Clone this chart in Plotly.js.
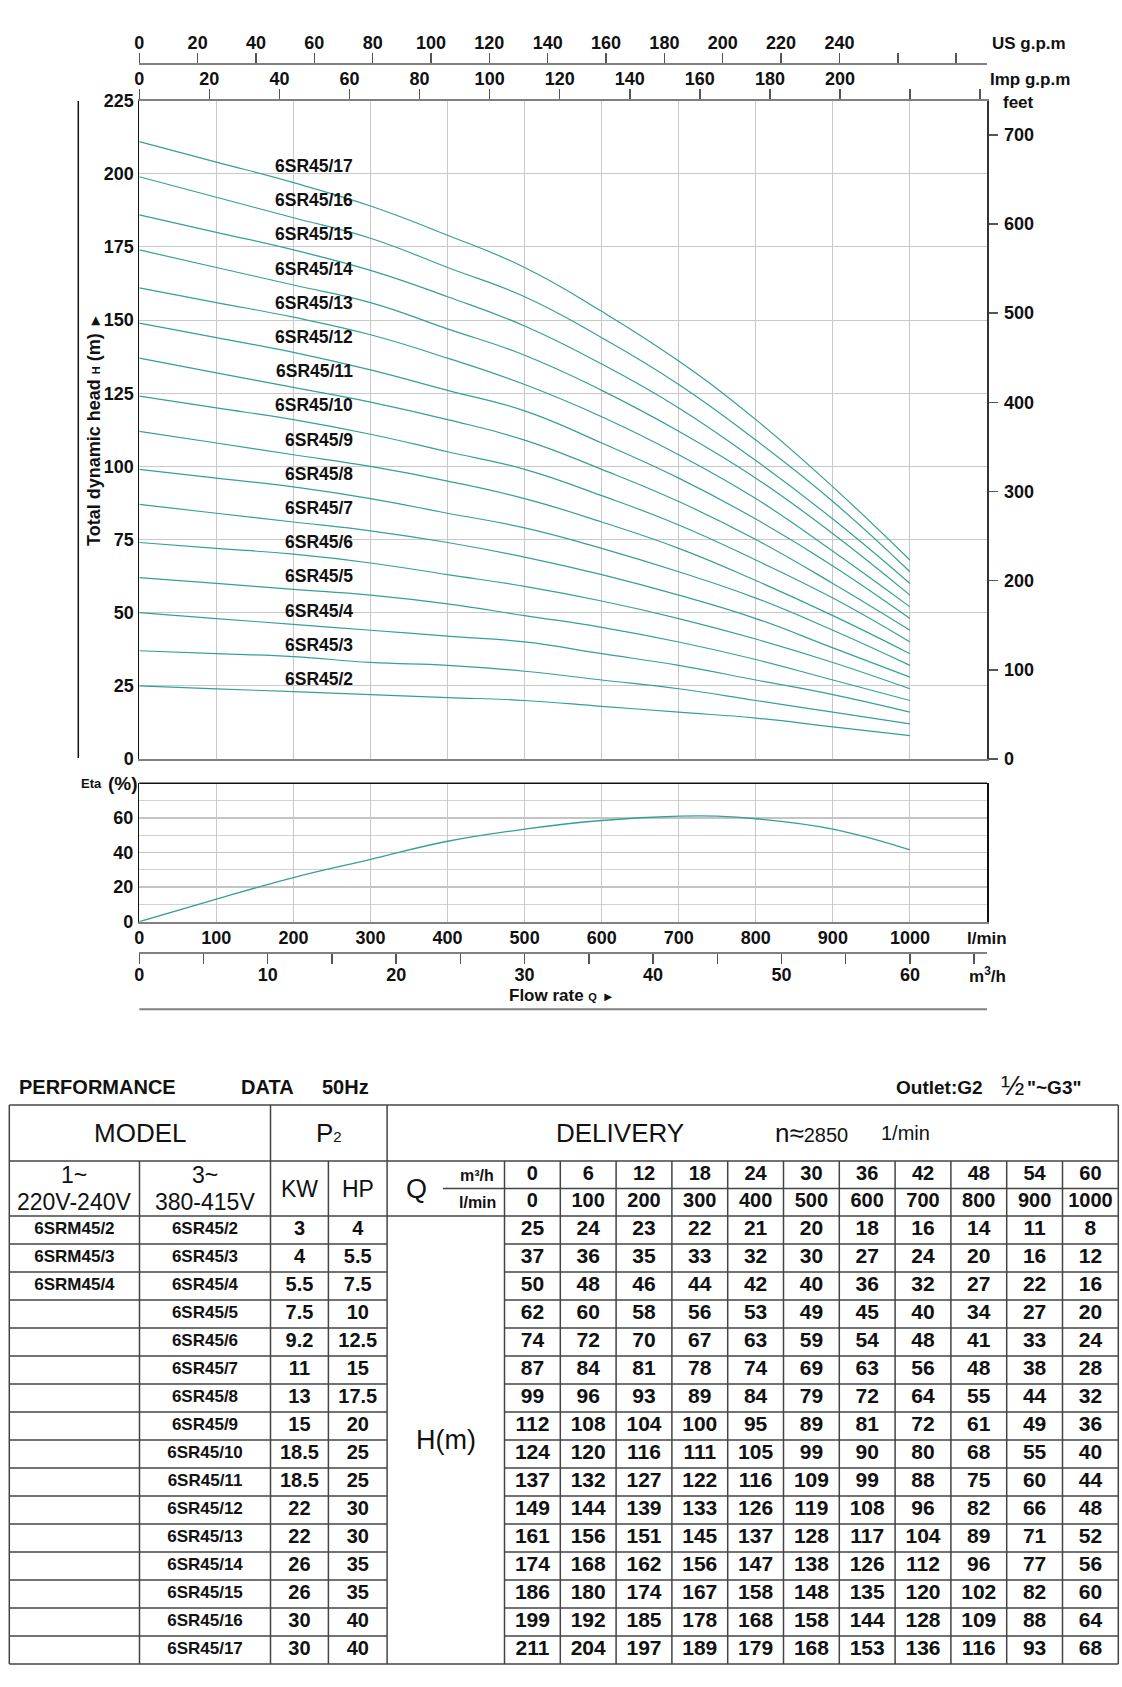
<!DOCTYPE html>
<html><head><meta charset="utf-8">
<script src="https://cdn.plot.ly/plotly-3.0.1.min.js"></script>
<style>html,body{margin:0;padding:0;background:#fff}#chart{width:1122px;height:1687px}</style>
</head><body><div id="chart"></div>
<script>
// ---------------- DATA ----------------
const flowLmin = [0,100,200,300,400,500,600,700,800,900,1000];
const flowM3h  = [0,6,12,18,24,30,36,42,48,54,60];
const models3 = ['6SR45/2','6SR45/3','6SR45/4','6SR45/5','6SR45/6','6SR45/7','6SR45/8','6SR45/9','6SR45/10','6SR45/11','6SR45/12','6SR45/13','6SR45/14','6SR45/15','6SR45/16','6SR45/17'];
const models1 = ['6SRM45/2','6SRM45/3','6SRM45/4','','','','','','','','','','','','',''];
const powerKW = ['3','4','5.5','7.5','9.2','11','13','15','18.5','18.5','22','22','26','26','30','30'];
const powerHP = ['4','5.5','7.5','10','12.5','15','17.5','20','25','25','30','30','35','35','40','40'];
const head2  = [25,24,23,22,21,20,18,16,14,11,8];
const head3  = [37,36,35,33,32,30,27,24,20,16,12];
const head4  = [50,48,46,44,42,40,36,32,27,22,16];
const head5  = [62,60,58,56,53,49,45,40,34,27,20];
const head6  = [74,72,70,67,63,59,54,48,41,33,24];
const head7  = [87,84,81,78,74,69,63,56,48,38,28];
const head8  = [99,96,93,89,84,79,72,64,55,44,32];
const head9  = [112,108,104,100,95,89,81,72,61,49,36];
const head10 = [124,120,116,111,105,99,90,80,68,55,40];
const head11 = [137,132,127,122,116,109,99,88,75,60,44];
const head12 = [149,144,139,133,126,119,108,96,82,66,48];
const head13 = [161,156,151,145,137,128,117,104,89,71,52];
const head14 = [174,168,162,156,147,138,126,112,96,77,56];
const head15 = [186,180,174,167,158,148,135,120,102,82,60];
const head16 = [199,192,185,178,168,158,144,128,109,88,64];
const head17 = [211,204,197,189,179,168,153,136,116,93,68];
const heads = [head2,head3,head4,head5,head6,head7,head8,head9,head10,head11,head12,head13,head14,head15,head16,head17];
const etaFlow = [0,100,200,300,400,500,600,700,750,800,900,1000];
const etaPct  = [0,13,25.5,36,46.5,53.5,58.5,61,61,59.5,53.5,41.5];
const usGpmLabeled  = [0,20,40,60,80,100,120,140,160,180,200,220,240];
const usGpmExtra    = [260,280];
const impGpmLabeled = [0,20,40,60,80,100,120,140,160,180,200];
const impGpmExtra   = [220,240];
const m3hLabeled = [0,10,20,30,40,50,60];

// ---------------- LAYOUT CONSTANTS ----------------
const W = 1122, H = 1687;
const py = y => 1 - y / H;
const L = 139.3, R = 987, MT = 100.7, MB = 759, ET = 783.3, EB = 921.7;
const XMAX = 1100;
const TEAL = '#35a095', GRID = '#c8c8c8', AXG = '#808080';
const FF = 'Liberation Sans, Arial, Helvetica, sans-serif';
const tf = (s, w) => ({family: FF, size: s, color: '#111', weight: w || 'bold'});

const traces = [];
heads.forEach((h, i) => traces.push({
  x: flowLmin, y: h, type: 'scatter', mode: 'lines', name: models3[i],
  line: {color: TEAL, width: 1.2, shape: 'spline', smoothing: 1.3},
  xaxis: 'x', yaxis: 'y', hoverinfo: 'skip', showlegend: false
}));
traces.push({x: etaFlow, y: etaPct, type: 'scatter', mode: 'lines',
  line: {color: TEAL, width: 1.3, shape: 'spline', smoothing: 1.2},
  xaxis: 'x4', yaxis: 'y3', hoverinfo: 'skip', showlegend: false});
// helper traces so the secondary scales exist
[['x2','y'],['x3','y'],['x','y2'],['x5','y3']].forEach(p => traces.push({
  x: [0], y: [0], type: 'scatter', mode: 'markers', marker: {opacity: 0},
  xaxis: p[0], yaxis: p[1], hoverinfo: 'skip', showlegend: false}));

// ---------------- TABLE GEOMETRY ----------------
const T_TOP = 1105, T_R1 = 1161, T_R2 = 1216, ROW_H = 28.0;
const T_BOT = T_R2 + ROW_H * models3.length;
const DATA_X0 = 504.5, DATA_W = 55.8;
const colEdges = [9.3, 139.5, 270.5, 328.4, 387.1, DATA_X0];
flowLmin.forEach((_, k) => colEdges.push(DATA_X0 + (k + 1) * DATA_W));
const T_L = colEdges[0], T_RT = colEdges[colEdges.length - 1];
const dataCx = flowLmin.map((_, k) => DATA_X0 + (k + 0.5) * DATA_W);
const rowCy = models3.map((_, i) => T_R2 + (i + 0.5) * ROW_H);
const cc = i => (colEdges[i] + colEdges[i + 1]) / 2;
const T_MID = (T_R1 + T_R2) / 2;

const shapes = [];
const ln = (x0, y0, x1, y1, c, w) => shapes.push({type: 'line', xref: 'x6', yref: 'y6', x0, y0, x1, y1, line: {color: c || '#444', width: w || 1.5}});
ln(T_L, T_TOP, T_RT, T_TOP); ln(T_L, T_R1, T_RT, T_R1); ln(T_L, T_R2, T_RT, T_R2); ln(T_L, T_BOT, T_RT, T_BOT);
ln(443, T_MID, T_RT, T_MID);
for (let i = 1; i < models3.length; i++) {
  const y = T_R2 + i * ROW_H;
  ln(T_L, y, colEdges[4], y); ln(colEdges[5], y, T_RT, y);
}
ln(T_L, T_TOP, T_L, T_BOT); ln(T_RT, T_TOP, T_RT, T_BOT);
ln(colEdges[2], T_TOP, colEdges[2], T_BOT); ln(colEdges[4], T_TOP, colEdges[4], T_BOT);
[1, 3, 5].forEach(i => ln(colEdges[i], T_R1, colEdges[i], T_BOT));
for (let k = 6; k < colEdges.length - 1; k++) ln(colEdges[k], T_R1, colEdges[k], T_BOT);
// chart decorations
ln(78.3, 101, 78.3, 758, '#111', 1.5);
ln(L, 1009.3, R, 1009.3, AXG, 2);
ln(L, ET, R, ET, '#111', 1.5);

// table text traces
const rep = (v, n) => Array(n).fill(v);
const txt = (x, y, text, size) => traces.push({x, y, text, type: 'scatter', mode: 'text', textfont: tf(size), xaxis: 'x6', yaxis: 'y6', hoverinfo: 'skip', showlegend: false});
const m1idx = models1.map((m, i) => i).filter(i => models1[i] !== '');
txt(m1idx.map(() => cc(0)), m1idx.map(i => rowCy[i]), m1idx.map(i => models1[i]), 17);
txt(rep(cc(1), 16), rowCy, models3, 17);
txt(rep(cc(2), 16), rowCy, powerKW, 20);
txt(rep(cc(3), 16), rowCy, powerHP, 20);
heads.forEach((h, i) => txt(dataCx, rep(rowCy[i], h.length), h.map(String), 21));
txt(dataCx, rep(1175, 11), flowM3h.map(String), 20);
txt(dataCx, rep(1202, 11), flowLmin.map(String), 20);

// ---------------- ANNOTATIONS ----------------
const ann = [];
const A = (text, x, y, font, extra) => ann.push(Object.assign({text, x, y, xref: 'x6', yref: 'y6', showarrow: false, xanchor: 'center', yanchor: 'middle', font}, extra || {}));
// curve labels
models3.forEach((m, i) => A(m, 355, 166 + (models3.length - 1 - i) * 34.2, tf(17.5), {xanchor: 'right'}));
A('US g.p.m', 990, 43, tf(17), {xanchor: 'left'});
A('Imp g.p.m', 988, 79, tf(17), {xanchor: 'left'});
A('feet', 1018, 102, tf(17));
A('l/min', 987, 938, tf(17));
A('m<sup>3</sup>/h', 987, 975, tf(17));
A('Total dynamic head <span style="font-size:11px">H</span> (m) <span style="font-size:15px">►</span>', 94, 430, tf(18), {textangle: -90});
A('Flow rate <span style="font-size:11px">Q</span> <span style="font-size:13px">►</span>', 562, 995, tf(17));
A('Eta', 91, 783, tf(13));
A('(%)', 122.5, 783, tf(19));
// table headers
A('PERFORMANCE', 17, 1087, tf(20), {xanchor: 'left'});
A('DATA', 239, 1087, tf(20), {xanchor: 'left'});
A('50Hz', 319.5, 1087, tf(20), {xanchor: 'left'});
A('Outlet:G2', 894, 1087, tf(19), {xanchor: 'left'});
A('½', 1012, 1085, tf(28, 'normal'));
A('"~G3"', 1025, 1087, tf(19), {xanchor: 'left'});
A('MODEL', (colEdges[0] + colEdges[2]) / 2, 1133, tf(26, 'normal'));
A('P<span style="font-size:15px">2</span>', (colEdges[2] + colEdges[4]) / 2, 1133, tf(26, 'normal'));
A('DELIVERY', 620, 1133, tf(26, 'normal'));
A('n≈<span style="font-size:20px">2850</span>', 811, 1133, tf(26, 'normal'));
A('1/min', 905, 1133, tf(20, 'normal'));
A('1~', cc(0), 1175, tf(23, 'normal'));
A('220V-240V', cc(0), 1202, tf(23, 'normal'));
A('3~', cc(1), 1175, tf(23, 'normal'));
A('380-415V', cc(1), 1202, tf(23, 'normal'));
A('KW', cc(2), 1188.5, tf(23, 'normal'));
A('HP', cc(3), 1188.5, tf(23, 'normal'));
A('Q', 416, 1188.5, tf(27, 'normal'));
A('m³/h', 477, 1175, tf(16));
A('l/min', 477, 1202, tf(16));
A('H(m)', (colEdges[4] + colEdges[5]) / 2, (T_R2 + T_BOT) / 2, tf(27, 'normal'));

// ---------------- AXES ----------------
const dom = [L / W, R / W];
const tickStyle = {ticks: 'outside', ticklen: 10, tickcolor: '#555', tickwidth: 1.5};
const layout = {
  width: W, height: H, margin: {l: 0, r: 0, t: 0, b: 0},
  paper_bgcolor: '#fff', plot_bgcolor: 'rgba(0,0,0,0)', showlegend: false,
  xaxis: {domain: dom, range: [0, XMAX], anchor: 'y', dtick: 100, tick0: 0, showgrid: true, gridcolor: GRID, gridwidth: 1,
    showticklabels: false, ticks: '', showline: true, linecolor: AXG, linewidth: 2, zeroline: false, fixedrange: true},
  yaxis: {domain: [py(MB), py(MT)], range: [0, 225], anchor: 'x', dtick: 25, tick0: 0, showgrid: true, gridcolor: GRID,
    ticks: '', showline: true, linecolor: '#111', linewidth: 1, zeroline: false, tickfont: tf(18), ticklabelstandoff: 1, fixedrange: true},
  xaxis2: Object.assign({overlaying: 'x', side: 'top', anchor: 'y', range: [0, XMAX / 4.54609], tickmode: 'array', tickvals: impGpmLabeled,
    minor: Object.assign({tickmode: 'array', tickvals: impGpmExtra}, tickStyle), ticklabelstandoff: -3,
    showline: true, linecolor: AXG, linewidth: 2, showgrid: false, zeroline: false, tickfont: tf(18), fixedrange: true}, tickStyle),
  xaxis3: Object.assign({overlaying: 'x', side: 'top', anchor: 'free', position: py(64.3), domain: dom, range: [0, XMAX / 3.785411784], tickmode: 'array', tickvals: usGpmLabeled,
    minor: Object.assign({tickmode: 'array', tickvals: usGpmExtra}, tickStyle), ticklabelstandoff: -3,
    showline: true, linecolor: AXG, linewidth: 2, showgrid: false, zeroline: false, tickfont: tf(18), fixedrange: true}, tickStyle),
  yaxis2: {overlaying: 'y', side: 'right', anchor: 'x', range: [0, 225 / 0.3048], dtick: 100, tick0: 0, ticks: 'outside', ticklen: 9,
    tickcolor: '#555', tickwidth: 1.5, showline: true, linecolor: '#333', linewidth: 1.5, showgrid: false, zeroline: false, tickfont: tf(18), ticklabelstandoff: 3, fixedrange: true},
  xaxis4: {domain: dom, range: [0, XMAX], anchor: 'y3', tickmode: 'array', tickvals: flowLmin, showgrid: true, gridcolor: GRID,
    ticks: '', showline: true, linecolor: AXG, linewidth: 2, zeroline: false, tickfont: tf(18), ticklabelstandoff: -1, fixedrange: true},
  yaxis3: {domain: [py(EB), py(ET)], range: [0, 80], anchor: 'x4', tickmode: 'array', tickvals: [0, 20, 40, 60],
    showgrid: true, gridcolor: '#c4c4c4', gridwidth: 1.5, minor: {dtick: 10, tick0: 0, showgrid: true, gridcolor: '#d2d2d2', gridwidth: 1},
    ticks: '', showline: true, mirror: true, linecolor: '#111', linewidth: 1.5, zeroline: false, tickfont: tf(18), ticklabelstandoff: 1, fixedrange: true},
  xaxis5: Object.assign({overlaying: 'x4', side: 'bottom', anchor: 'free', position: py(952.7), domain: dom, range: [0, XMAX * 0.06], tickmode: 'array', tickvals: m3hLabeled,
    minor: Object.assign({dtick: 5, tick0: 0}, tickStyle), ticklabelstandoff: -4,
    showline: true, linecolor: AXG, linewidth: 2, showgrid: false, zeroline: false, tickfont: tf(18), fixedrange: true}, tickStyle),
  xaxis6: {domain: [0, 1], range: [0, W], anchor: 'y6', visible: false, fixedrange: true},
  yaxis6: {domain: [0, 1], range: [H, 0], anchor: 'x6', visible: false, fixedrange: true},
  shapes: shapes, annotations: ann
};
Plotly.newPlot('chart', traces, layout, {displayModeBar: false, staticPlot: true});
</script></body></html>
